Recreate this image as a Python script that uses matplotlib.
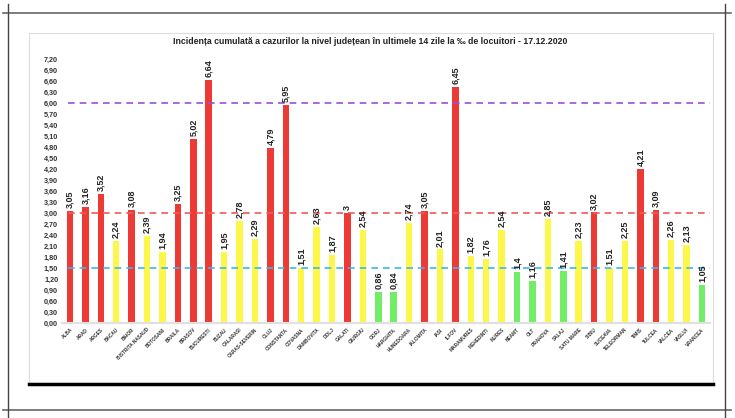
import matplotlib.pyplot as plt
from matplotlib.lines import Line2D
from matplotlib.patches import Rectangle

# judete si incidenta (la mie locuitori)
judete = ['ALBA', 'ARAD', 'ARGES', 'BACAU', 'BIHOR', 'BISTRITA NASAUD', 'BOTOSANI',
          'BRAILA', 'BRASOV', 'BUCURESTI', 'BUZAU', 'CALARASI', 'CARAS-SEVERIN', 'CLUJ',
          'CONSTANTA', 'COVASNA', 'DAMBOVITA', 'DOLJ', 'GALATI', 'GIURGIU', 'GORJ',
          'HARGHITA', 'HUNEDOARA', 'IALOMITA', 'IASI', 'ILFOV', 'MARAMURES', 'MEHEDINTI',
          'MURES', 'NEAMT', 'OLT', 'PRAHOVA', 'SALAJ', 'SATU MARE', 'SIBIU', 'SUCEAVA',
          'TELEORMAN', 'TIMIS', 'TULCEA', 'VALCEA', 'VASLUI', 'VRANCEA']
incidenta = [3.05, 3.16, 3.52, 2.24, 3.08, 2.39, 1.94, 3.25, 5.02, 6.64, 1.95, 2.78,
             2.29, 4.79, 5.95, 1.51, 2.63, 1.87, 3.00, 2.54, 0.86, 0.84, 2.74, 3.05,
             2.01, 6.45, 1.82, 1.76, 2.54, 1.40, 1.16, 2.85, 1.41, 2.23, 3.02, 1.51,
             2.25, 4.21, 3.09, 2.26, 2.13, 1.05]
praguri = [1.5, 3.0, 6.0]
yticks = [i * 0.3 for i in range(25)]

plt.rcParams['font.family'] = ['Liberation Sans', 'DejaVu Sans']

fig = plt.figure(figsize=(7.35, 4.18), dpi=100)
W, H = 735, 418


def px(x, y):
    return x / W, 1 - y / H


# chenarul paginii
for xs, ys, c, lw in [((3, 731), (13, 13), '#666666', 1.2),
                      ((3, 731), (410, 410), '#666666', 1.2),
                      ((8, 8), (4, 418), '#444444', 1.0),
                      ((725, 725), (4, 418), '#444444', 1.0)]:
    x0, y0 = px(xs[0], ys[0])
    x1, y1 = px(xs[1], ys[1])
    fig.add_artist(Line2D([x0, x1], [y0, y1], color=c, lw=lw, transform=fig.transFigure))

bx, by = px(29, 383)
fig.add_artist(Rectangle((bx, by), (713 - 29) / W, (383 - 33) / H, fill=False,
                         ec='#dddddd', lw=0.8, transform=fig.transFigure))
x0, y0 = px(29, 384)
x1, _ = px(713, 384)
fig.add_artist(Line2D([x0, x1], [y0, y0], color='black', lw=2.5, transform=fig.transFigure))

l, t = px(62.3, 59.5)
r, b = px(709.7, 323)
ax = fig.add_axes([l, b, r - l, t - b])


def culoare(v):
    if v >= 3:
        return '#ee3a35'
    if v >= 1.5:
        return '#fdf74a'
    return '#72ee66'


pos = list(range(len(judete)))
ax.bar(pos, incidenta, width=0.42, color=[culoare(v) for v in incidenta], zorder=2)

ax.hlines(praguri[0], -0.1, 41.5, colors='#3ab8f0', linestyles=(0, (4, 3)), lw=1.2, zorder=3)
ax.hlines(praguri[1], -0.1, 41.5, colors='#f05a5a', linestyles=(0, (4, 3)), lw=1.2, zorder=3)
ax.hlines(praguri[2], -0.1, 41.5, colors='#9b4fd8', linestyles=(0, (4, 3)), lw=1.2, zorder=3)

for p, v in zip(pos, incidenta):
    s = ('%.2f' % v).rstrip('0').rstrip('.') if v == 3.0 or v == 1.4 else '%.2f' % v
    ax.text(p, v + 0.08, s.replace('.', ','), rotation=90, ha='center', va='bottom',
            fontsize=6.5, fontweight='bold', color='#222222', zorder=4)

ax.set_xlim(-0.5, 41.5)
ax.set_ylim(0, 7.2)
ax.set_yticks(yticks)
ax.set_yticklabels([('%.2f' % v).replace('.', ',') for v in yticks],
                   fontsize=5.2, fontweight='bold', color='#333333')
ax.set_xticks(pos)
ax.set_xticklabels(judete, rotation=45, ha='right', rotation_mode='anchor',
                   fontsize=3.4, fontweight='bold', color='#333333')
ax.tick_params(length=0, pad=3)
for sp in ['top', 'right', 'left']:
    ax.spines[sp].set_visible(False)
ax.spines['bottom'].set_color('#e0e0e0')
ax.spines['bottom'].set_linewidth(1.5)

tx, ty = px(370, 42)
fig.text(tx, ty, 'Incidența cumulată a cazurilor la nivel județean în ultimele 14 zile la ‰ de locuitori - 17.12.2020',
         ha='center', va='center', fontsize=6.3, fontweight='bold', color='#222222')

fig.savefig('out.png', dpi=100)
